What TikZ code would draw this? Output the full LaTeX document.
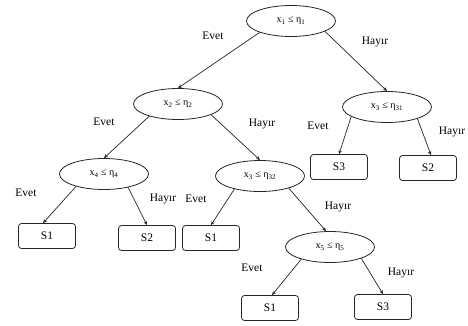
\documentclass[tikz,border=0pt]{standalone}
\usepackage{fontspec}
\setmainfont{Liberation Serif}
\usetikzlibrary{shapes.geometric,arrows.meta}
\begin{document}
\begin{tikzpicture}[x=1pt,y=-1pt,
  test/.style={ellipse,draw=black!85,line width=0.8pt,minimum width=89pt,minimum height=31pt,inner sep=0pt,font=\fontsize{10}{12}\selectfont},
  leaf/.style={rectangle,rounded corners=3pt,draw=black!85,line width=0.8pt,minimum width=57pt,minimum height=25pt,inner sep=0pt,font=\fontsize{11.5}{13}\selectfont},
  lbl/.style={font=\fontsize{11.5}{13}\selectfont,inner sep=0pt},
  edge/.style={draw=black!85,line width=0.7pt,-{Stealth[length=4pt,width=3.5pt]}}]
\useasboundingbox (0,0) rectangle (468,325);
\fill[white] (0,0) rectangle (468,325);
% decision nodes
\node[test] (r)   at (291,21)  {x\textsubscript{1} ≤ η\textsubscript{1}};
\node[test] (a)   at (178,104) {x\textsubscript{2} ≤ η\textsubscript{2}};
\node[test] (b)   at (387,107) {x\textsubscript{3} ≤ η\textsubscript{31}};
\node[test] (c)   at (104,174) {x\textsubscript{4} ≤ η\textsubscript{4}};
\node[test] (d)   at (260,176) {x\textsubscript{3} ≤ η\textsubscript{32}};
\node[test] (e)   at (330,247) {x\textsubscript{5} ≤ η\textsubscript{5}};
% leaves
\node[leaf] (l1) at (47,236)  {S1};
\node[leaf] (l2) at (147,238) {S2};
\node[leaf] (l3) at (211,238) {S1};
\node[leaf] (l4) at (339,167) {S3};
\node[leaf] (l5) at (428,168) {S2};
\node[leaf] (l6) at (270,308) {S1};
\node[leaf] (l7) at (383,307) {S3};
% connectors
\draw[edge] (r.200) -- (a.north);
\draw[edge] (r.343) -- (b.north);
\draw[edge] (a.203) -- (c.north);
\draw[edge] (a.342) -- (d.north);
\draw[edge] (b.195) -- (l4.north);
\draw[edge] (b.339) -- ([xshift=3pt]l5.north);
\draw[edge] (c.204) -- ([xshift=-4pt]l1.north);
\draw[edge] (c.331) -- (l2.north);
\draw[edge] (d.207) -- (l3.north);
\draw[edge] (d.337) -- ([xshift=-4pt]e.north);
\draw[edge] (e.203) -- ([xshift=2pt]l6.north);
\draw[edge] (e.340) -- (l7.north);
% labels
\node[lbl] (t1)  at (213,36)  {Evet};
\node[lbl] (t2)  at (375,42)  {Hayır};
\node[lbl] (t3)  at (104,122) {Evet};
\node[lbl] (t4)  at (262,124) {Hayır};
\node[lbl] (t5)  at (318,126) {Evet};
\node[lbl] (t6)  at (452,132) {Hayır};
\node[lbl] (t7)  at (26,193)  {Evet};
\node[lbl] (t8)  at (163,199) {Hayır};
\node[lbl] (t9)  at (196,199) {Evet};
\node[lbl] (t10) at (338,207) {Hayır};
\node[lbl] (t11) at (252,268) {Evet};
\node[lbl] (t12) at (401,273) {Hayır};
\end{tikzpicture}
\end{document}
